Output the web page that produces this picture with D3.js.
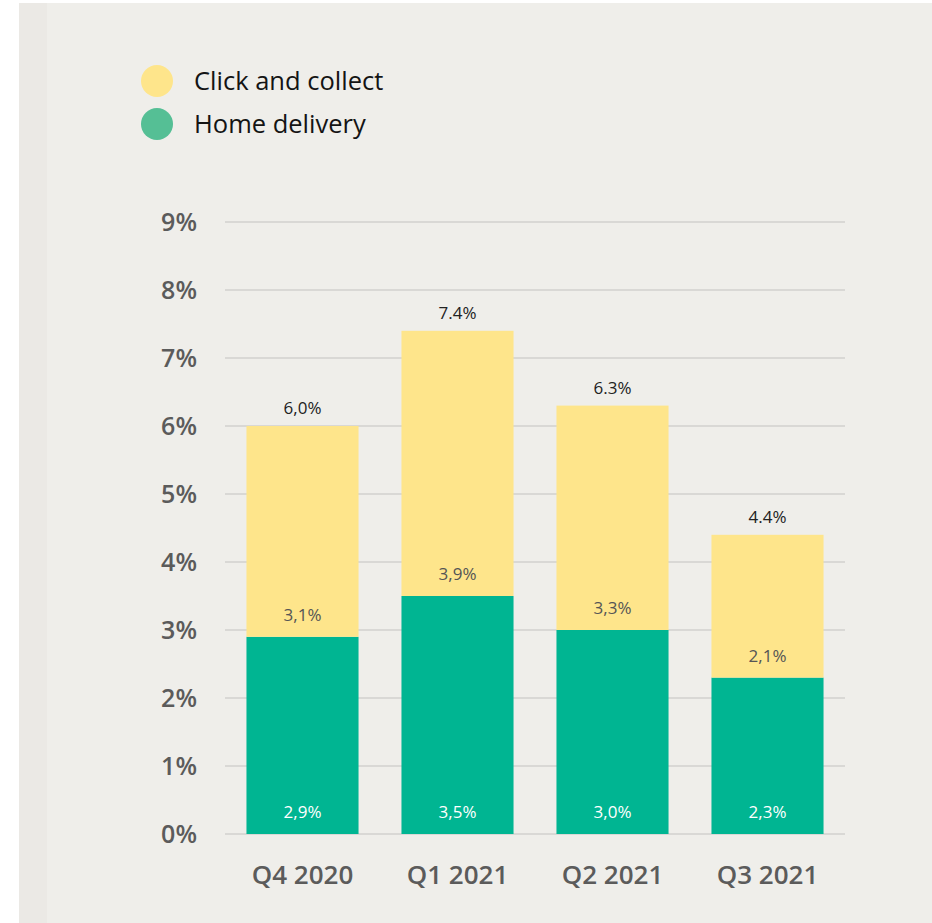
<!DOCTYPE html>
<html>
<head>
<meta charset="utf-8">
<script src="https://cdn.jsdelivr.net/npm/d3@7"></script>
<style>
  html, body { margin: 0; padding: 0; background: #ffffff; }
  svg { display: block; }
  text { font-family: "Open Sans", "Noto Sans", sans-serif; }
</style>
</head>
<body>
<svg id="chart" width="932" height="923"></svg>
<script>
const categories = ["Q4 2020", "Q1 2021", "Q2 2021", "Q3 2021"];
const homeDelivery = [2.9, 3.5, 3.0, 2.3];
const clickCollect = [3.1, 3.9, 3.3, 2.1];
const homeLabels = ["2,9%", "3,5%", "3,0%", "2,3%"];
const clickLabels = ["3,1%", "3,9%", "3,3%", "2,1%"];
const totalLabels = ["6,0%", "7.4%", "6.3%", "4.4%"];
const yTicks = [0, 1, 2, 3, 4, 5, 6, 7, 8, 9];
const seriesNames = ["Click and collect", "Home delivery"];

const svg = d3.select("#chart");
const W = 932, H = 923;

// panel background
svg.append("rect").attr("x", 19).attr("y", 3).attr("width", W - 19).attr("height", H - 3).attr("fill", "#efeeea");
svg.append("rect").attr("x", 19).attr("y", 3).attr("width", 28).attr("height", H - 3).attr("fill", "#ebe9e5");

const x = d3.scaleBand().domain(categories).range([225, 845]).paddingInner(0.277).paddingOuter(0.1385);
const y = d3.scaleLinear().domain([0, 9]).range([834, 222]);

// grid
svg.append("g").selectAll("line").data(yTicks).join("line")
  .attr("x1", 225).attr("x2", 845)
  .attr("y1", d => y(d)).attr("y2", d => y(d))
  .attr("stroke", "#d9d8d5").attr("stroke-width", 2);

// y axis labels
const yAxis = d3.axisLeft(y).tickValues(yTicks).tickFormat(d => d + "%").tickSize(0).tickPadding(0);
const gy = svg.append("g").attr("transform", "translate(197,0)").call(yAxis);
gy.select(".domain").remove();
gy.selectAll("text").attr("font-size", 25).attr("font-weight", 600).attr("fill", "#5b5b5b")
  .attr("font-family", "'Open Sans', sans-serif").attr("dy", "0.35em");

// x axis labels
const xAxis = d3.axisBottom(x).tickSize(0).tickPadding(0);
const gx = svg.append("g").attr("transform", "translate(0,875)").call(xAxis);
gx.select(".domain").remove();
gx.selectAll("text").attr("font-size", 26).attr("font-weight", 600).attr("fill", "#5b5b5b")
  .attr("font-family", "'Open Sans', sans-serif").attr("dy", "0.35em");

const data = categories.map((c, i) => ({c, h: homeDelivery[i], k: clickCollect[i], i}));

// green bars
svg.append("g").selectAll("rect").data(data).join("rect")
  .attr("x", d => x(d.c)).attr("width", x.bandwidth())
  .attr("y", d => y(d.h)).attr("height", d => y(0) - y(d.h))
  .attr("fill", "#00b592");
// yellow bars
svg.append("g").selectAll("rect").data(data).join("rect")
  .attr("x", d => x(d.c)).attr("width", x.bandwidth())
  .attr("y", d => y(d.h + d.k)).attr("height", d => y(d.h) - y(d.h + d.k))
  .attr("fill", "#fee58b");

// labels
const cx = d => x(d.c) + x.bandwidth() / 2;
svg.append("g").selectAll("text").data(data).join("text")
  .attr("x", cx).attr("y", d => y(0) - 22).attr("dy", "0.35em")
  .attr("text-anchor", "middle").attr("font-size", 17).attr("fill", "#ffffff")
  .text(d => homeLabels[d.i]);
svg.append("g").selectAll("text").data(data).join("text")
  .attr("x", cx).attr("y", d => y(d.h) - 22).attr("dy", "0.35em")
  .attr("text-anchor", "middle").attr("font-size", 17).attr("fill", "#555555")
  .text(d => clickLabels[d.i]);
svg.append("g").selectAll("text").data(data).join("text")
  .attr("x", cx).attr("y", d => y(d.h + d.k) - 18).attr("dy", "0.35em")
  .attr("text-anchor", "middle").attr("font-size", 17).attr("fill", "#222222")
  .text(d => totalLabels[d.i]);

// legend
const legColors = ["#fee58b", "#55bf95"];
const leg = svg.append("g").selectAll("g").data(seriesNames).join("g")
  .attr("transform", (d, i) => `translate(157,${81 + i * 43})`);
leg.append("circle").attr("r", 16).attr("fill", (d, i) => legColors[i]);
leg.append("text").attr("x", 37).attr("dy", "0.35em").attr("font-size", 25.5)
  .attr("fill", "#141414").text(d => d);
</script>
</body>
</html>
